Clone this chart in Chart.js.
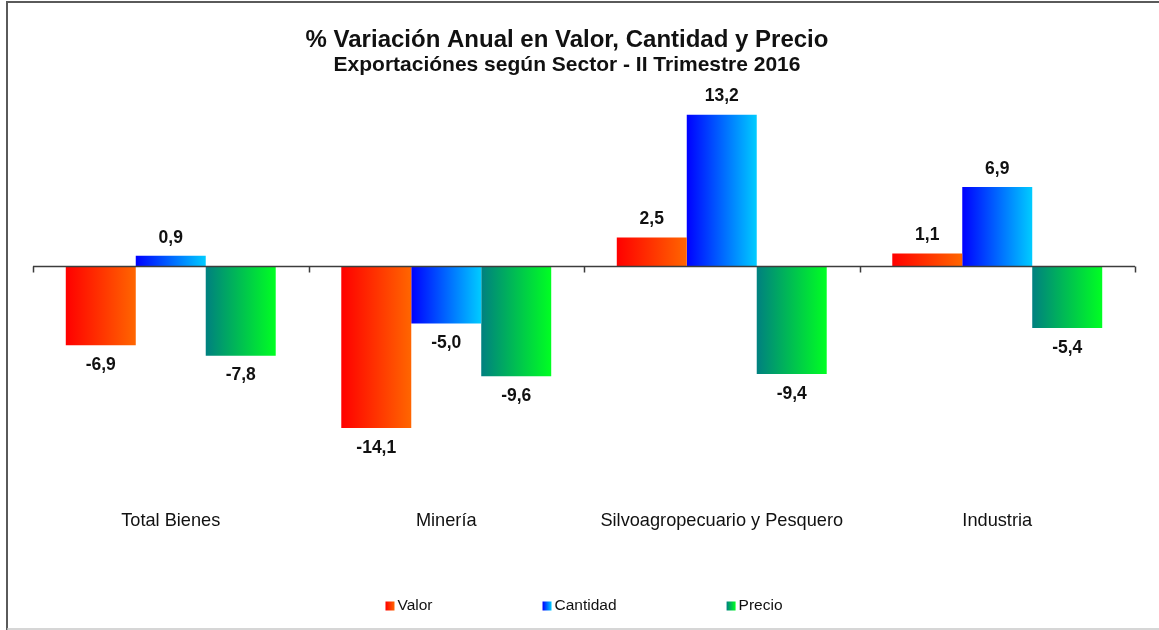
<!DOCTYPE html>
<html>
<head>
<meta charset="utf-8">
<script src="https://cdn.jsdelivr.net/npm/chart.js@4.4.1/dist/chart.umd.min.js"></script>
<style>
  html, body { margin: 0; padding: 0; background: #fff; }
  #wrap { position: absolute; left: 0; top: 0; width: 1159px; height: 630px; }
</style>
</head>
<body>
<div id="wrap"><canvas id="c" width="1159" height="630"></canvas></div>
<script>
const categories = ['Total Bienes', 'Minería', 'Silvoagropecuario y Pesquero', 'Industria'];
const seriesNames = ['Valor', 'Cantidad', 'Precio'];
const valor = [-6.9, -14.1, 2.5, 1.1];
const cantidad = [0.9, -5.0, 13.2, 6.9];
const precio = [-7.8, -9.6, -9.4, -5.4];
const titleText = '% Variación Anual en Valor, Cantidad y Precio';
const subtitleText = 'Exportaciónes según Sector - II Trimestre 2016';

const gradStops = [
  ['#FF0000', '#FF6600'],
  ['#0000FF', '#00CCFF'],
  ['#008080', '#00FF22']
];
const FONT = '"Liberation Sans", Arial, sans-serif';

function fmt(v) { return v.toFixed(1).replace('.', ','); }

const gradientPlugin = {
  id: 'gradBars',
  beforeDatasetsDraw(chart) {
    const ctx = chart.ctx;
    chart.data.datasets.forEach((ds, di) => {
      const meta = chart.getDatasetMeta(di);
      meta.data.forEach(el => {
        const w = el.width;
        const g = ctx.createLinearGradient(el.x - w / 2, 0, el.x + w / 2, 0);
        g.addColorStop(0, gradStops[di][0]);
        g.addColorStop(1, gradStops[di][1]);
        el.options = Object.assign({}, el.options, { backgroundColor: g, borderWidth: 0 });
      });
    });
  }
};

const framePlugin = {
  id: 'frame',
  beforeDraw(chart) {
    const ctx = chart.ctx;
    ctx.save();
    ctx.fillStyle = '#fff';
    ctx.fillRect(0, 0, chart.width, chart.height);
    ctx.strokeStyle = '#5a5a5a';
    ctx.lineWidth = 2;
    ctx.beginPath();
    ctx.moveTo(7, chart.height);
    ctx.lineTo(7, 2);
    ctx.lineTo(chart.width, 2);
    ctx.stroke();
    ctx.strokeStyle = '#c8c8c8';
    ctx.lineWidth = 1.5;
    ctx.beginPath();
    ctx.moveTo(7, chart.height - 1);
    ctx.lineTo(chart.width, chart.height - 1);
    ctx.stroke();

    // titles
    ctx.fillStyle = '#111';
    ctx.textAlign = 'center';
    ctx.textBaseline = 'middle';
    ctx.font = 'bold 24px ' + FONT;
    ctx.fillText(titleText, 567, 40.5);
    ctx.font = 'bold 21px ' + FONT;
    ctx.fillText(subtitleText, 567, 65.5);
    ctx.restore();
  },
  afterDatasetsDraw(chart) {
    const ctx = chart.ctx;
    const ys = chart.scales.y;
    const y0 = Math.round(ys.getPixelForValue(0)) + 0.5;
    const ca = chart.chartArea;
    ctx.save();
    ctx.strokeStyle = '#3c3c3c';
    ctx.lineWidth = 1.5;
    ctx.beginPath();
    ctx.moveTo(ca.left, y0);
    ctx.lineTo(ca.right, y0);
    const n = categories.length;
    const step = (ca.right - ca.left) / n;
    for (let i = 0; i <= n; i++) {
      const x = Math.round(ca.left + i * step) + 0.5;
      ctx.moveTo(x, y0);
      ctx.lineTo(x, y0 + 6);
    }
    ctx.stroke();

    // value labels
    ctx.fillStyle = '#111';
    ctx.font = 'bold 17.5px ' + FONT;
    ctx.textAlign = 'center';
    ctx.textBaseline = 'middle';
    chart.data.datasets.forEach((ds, di) => {
      const meta = chart.getDatasetMeta(di);
      meta.data.forEach((el, i) => {
        const v = ds.data[i];
        const y = v >= 0 ? el.y - 18 : el.y + 20;
        ctx.fillText(fmt(v), el.x, y);
      });
    });

    // legend
    ctx.font = '15.5px ' + FONT;
    ctx.textAlign = 'left';
    const box = 9, gapT = 3, gapI = 110;
    const widths = seriesNames.map(s => ctx.measureText(s).width);
    let total = 0;
    widths.forEach((w, i) => { total += box + gapT + w + (i < widths.length - 1 ? gapI : 0); });
    let x = (ca.left + ca.right) / 2 - total / 2;
    const ly = 606;
    seriesNames.forEach((s, i) => {
      const g = ctx.createLinearGradient(x, 0, x + box, 0);
      g.addColorStop(0, gradStops[i][0]);
      g.addColorStop(1, gradStops[i][1]);
      ctx.fillStyle = g;
      ctx.fillRect(x, ly - 4.5, box, box);
      ctx.fillStyle = '#111';
      ctx.fillText(s, x + box + gapT, ly);
      x += box + gapT + widths[i] + gapI;
    });
    ctx.restore();
  }
};

new Chart(document.getElementById('c'), {
  type: 'bar',
  data: {
    labels: categories,
    datasets: [
      { label: seriesNames[0], data: valor },
      { label: seriesNames[1], data: cantidad },
      { label: seriesNames[2], data: precio }
    ]
  },
  options: {
    responsive: false,
    animation: false,
    devicePixelRatio: 1,
    datasets: { bar: { categoryPercentage: 0.762, barPercentage: 1.0, borderWidth: 0 } },
    layout: { padding: { left: 33, right: 24, top: 94, bottom: 95 } },
    plugins: {
      legend: { display: false },
      tooltip: { enabled: false },
      title: { display: false },
      subtitle: { display: false }
    },
    scales: {
      x: {
        grid: { display: false, drawTicks: false },
        border: { display: false },
        ticks: { color: '#111', font: { family: FONT, size: 18.2 }, padding: 3, maxRotation: 0 }
      },
      y: {
        display: false,
        min: -21, max: 15
      }
    }
  },
  plugins: [framePlugin, gradientPlugin]
});
</script>
</body>
</html>
